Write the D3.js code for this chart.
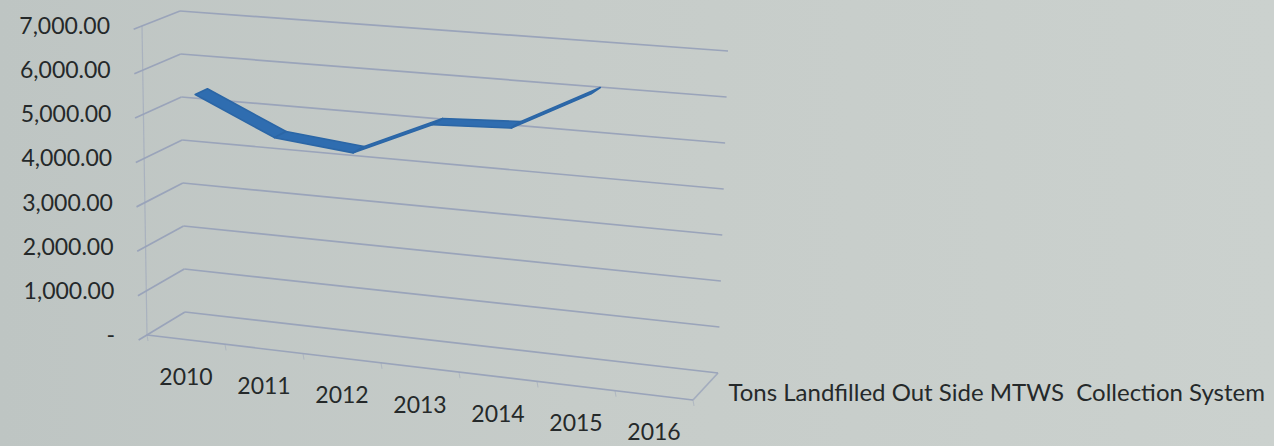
<!DOCTYPE html>
<html>
<head>
<meta charset="utf-8">
<script src="https://cdn.jsdelivr.net/npm/d3@7"></script>
<style>
  html, body { margin: 0; padding: 0; background: #c7cdca; }
  svg { display: block; }
  text { font-family: Lato, "Open Sans", sans-serif; fill: #25292a; white-space: pre; }
</style>
</head>
<body>
<svg id="chart" width="1274" height="446"></svg>
<script>
// ---- data ----
const categories = ["2010", "2011", "2012", "2013", "2014", "2015", "2016"];
const seriesName = "Tons Landfilled Out Side MTWS  Collection System";
const seriesValues = [5400, 4580, 4400, 5180, 5260, 6150, null];
const yTickValues = [0, 1000, 2000, 3000, 4000, 5000, 6000, 7000];
const yTickLabels = ["-", "1,000.00", "2,000.00", "3,000.00", "4,000.00", "5,000.00", "6,000.00", "7,000.00"];

// ---- layout: screen corners of the 3D plot box (photographed perspective) ----
const W = 1274, H = 446;
const corners = {
  FLB: [147, 335], FLT: [142, 26],
  BLB: [185, 312], BLT: [180, 11],
  FRB: [693, 400], FRT: [703, 70],
  BRB: [718, 373], BRT: [728, 51]
};
function lerp(a, b, t) { return [a[0] + (b[0] - a[0]) * t, a[1] + (b[1] - a[1]) * t]; }
// u: along categories (0..1), h: height (0..1), d: depth (0 front .. 1 back)
function project(u, h, d) {
  const fl = lerp(corners.FLB, corners.FLT, h);
  const bl = lerp(corners.BLB, corners.BLT, h);
  const fr = lerp(corners.FRB, corners.FRT, h);
  const br = lerp(corners.BRB, corners.BRT, h);
  const left = lerp(fl, bl, d);
  const right = lerp(fr, br, d);
  return lerp(left, right, u);
}

const svg = d3.select("#chart");

// background (photo-like shading)
const defs = svg.append("defs");
const grad = defs.append("linearGradient").attr("id", "bg").attr("x1", 0).attr("x2", 1).attr("y1", 0).attr("y2", 0);
grad.append("stop").attr("offset", "0%").attr("stop-color", "#bec5c3");
grad.append("stop").attr("offset", "45%").attr("stop-color", "#c6ccc9");
grad.append("stop").attr("offset", "100%").attr("stop-color", "#cbd1ce");
svg.append("rect").attr("width", W).attr("height", H).attr("fill", "url(#bg)");

// scales
const yScale = d3.scaleLinear().domain([0, 7000]).range([0, 1]);
const xScale = d3.scaleBand().domain(categories).range([0, 1]).paddingInner(0).paddingOuter(0);
const ribbonFront = 0.33, ribbonBack = 0.66;

const gridColor = "#9aa4ba";
const line = d3.line();

// back wall and side wall gridlines
const grid = svg.append("g").attr("fill", "none").attr("stroke", gridColor).attr("stroke-width", 1.7);
yTickValues.forEach(v => {
  const h = yScale(v);
  grid.append("path").attr("d", line([project(0, h, 1), project(1, h, 1)]));
  grid.append("path").attr("d", line([project(0, h, -0.22), project(0, h, 1)]));
});
// front-left vertical edge of side wall
grid.append("path").attr("stroke-width", 1.2).attr("opacity", 0.6)
  .attr("d", line([project(0, 0, 0), project(0, 1, 0)]));
// floor front edge and right edge
grid.append("path").attr("d", line([project(0, 0, 0), project(1, 0, 0)]));
grid.append("path").attr("opacity", 0.8).attr("d", line([project(1, 0, 0), project(1, 0, 1)]));
// category tick marks on floor front edge
const tickG = grid.append("g").attr("stroke-width", 1).attr("opacity", 0.5);
categories.forEach(c => {
  const p = project(xScale(c), 0, 0);
  tickG.append("path").attr("d", line([p, [p[0] + 1, p[1] + 6]]));
});
{
  const p = project(1, 0, 0);
  tickG.append("path").attr("d", line([p, [p[0] + 1, p[1] + 6]]));
}

// y tick labels
const yLab = svg.append("g").attr("font-size", 23).attr("text-anchor", "end");
yTickValues.forEach((v, i) => {
  const p = project(0, yScale(v), 0);
  yLab.append("text").attr("x", p[0] - 32).attr("y", p[1]).attr("dy", "0.35em").text(yTickLabels[i]);
});

// category labels
const xLab = svg.append("g").attr("font-size", 23).attr("text-anchor", "middle");
categories.forEach(c => {
  const p = project(xScale(c) + xScale.bandwidth() / 2, 0, 0);
  xLab.append("text").attr("x", p[0]).attr("y", p[1] + 37).attr("dy", "0.35em").text(c);
});

// series (depth axis) label
{
  const p = project(1, 0, 0.5);
  svg.append("text").attr("font-size", 24).attr("x", p[0] + 23).attr("y", p[1] + 6)
    .attr("dy", "0.35em").text(seriesName);
}

// ribbon
const pts = categories.map((c, i) => ({ c, v: seriesValues[i] })).filter(d => d.v != null);
const ribbon = svg.append("g");
for (let i = 0; i < pts.length - 1; i++) {
  const a = pts[i], b = pts[i + 1];
  const ua = xScale(a.c) + xScale.bandwidth() / 2, ub = xScale(b.c) + xScale.bandwidth() / 2;
  const ha = yScale(a.v), hb = yScale(b.v);
  const poly = [project(ua, ha, ribbonFront), project(ub, hb, ribbonFront),
                project(ub, hb, ribbonBack), project(ua, ha, ribbonBack)];
  ribbon.append("path").attr("d", line(poly) + "Z")
    .attr("fill", "#2f6db0").attr("stroke", "#2b66a6").attr("stroke-width", 1.6)
    .attr("stroke-linejoin", "round");
}
</script>
</body>
</html>
